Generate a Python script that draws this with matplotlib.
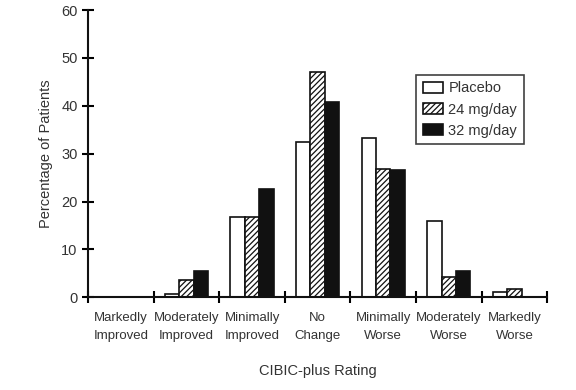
import numpy as np
import matplotlib.pyplot as plt

plt.rcParams['font.family'] = ['Liberation Sans', 'DejaVu Sans']
plt.rcParams['hatch.linewidth'] = 0.9

categories = ['Markedly\nImproved', 'Moderately\nImproved', 'Minimally\nImproved', 'No\nChange',
              'Minimally\nWorse', 'Moderately\nWorse', 'Markedly\nWorse']
placebo = [0, 0.6, 16.8, 32.5, 33.3, 16.0, 1.1]
mg24 = [0, 3.6, 16.8, 47.0, 26.8, 4.2, 1.8]
mg32 = [0, 5.5, 22.7, 40.7, 26.6, 5.4, 0]

x = np.arange(len(categories))
w = 0.22

fig = plt.figure(figsize=(5.76, 3.9), dpi=100)
ax = fig.add_axes([0.153, 0.238, 0.797, 0.736])

ax.bar(x - w, placebo, w, color='white', edgecolor='#111111', linewidth=1.2, label='Placebo')
ax.bar(x, mg24, w, color='white', edgecolor='#111111', linewidth=1.2, hatch='//////', label='24 mg/day')
ax.bar(x + w, mg32, w, color='#111111', edgecolor='#111111', linewidth=1.2, label='32 mg/day')

ax.set_xlim(-0.5, 6.5)
ax.set_ylim(0, 60)
ax.set_yticks(range(0, 61, 10))
ax.set_xticks(np.arange(-0.5, 7, 1))
ax.set_xticklabels([])
ax.set_xticks(x, minor=True)
ax.set_xticklabels(categories, minor=True, fontsize=9.5, color='#333333', linespacing=1.6)
ax.tick_params(axis='x', which='minor', length=0, pad=11)
ax.tick_params(axis='x', which='major', direction='inout', length=9, width=1.5)
ax.tick_params(axis='y', direction='inout', length=8, width=1.5, labelsize=10.5, labelcolor='#333333')

for s in ['top', 'right']:
    ax.spines[s].set_visible(False)
for s in ['left', 'bottom']:
    ax.spines[s].set_linewidth(1.5)
    ax.spines[s].set_color('#111111')

ax.set_ylabel('Percentage of Patients', fontsize=10.5, color='#333333', labelpad=6)
ax.set_xlabel('CIBIC-plus Rating', fontsize=10.5, color='#333333', labelpad=16)

leg = ax.legend(loc='upper left', bbox_to_anchor=(0.715, 0.775), fontsize=10.5, frameon=True,
                fancybox=False, edgecolor='#111111', handlelength=1.35, handleheight=0.75,
                handletextpad=0.4, borderpad=0.45, labelspacing=0.5, borderaxespad=0)
leg.get_frame().set_linewidth(1.2)
for t in leg.get_texts():
    t.set_color('#333333')

fig.savefig('out.png', dpi=100)
